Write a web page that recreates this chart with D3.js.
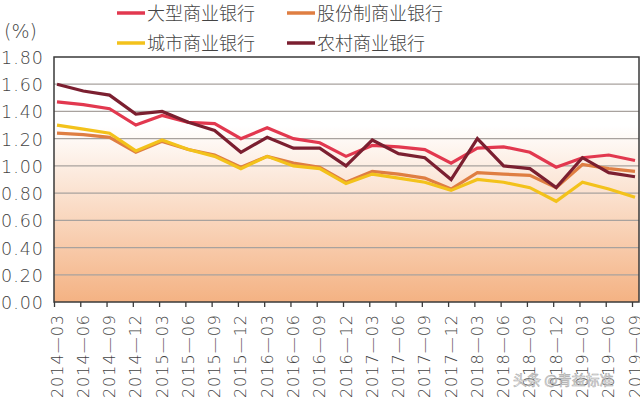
<!DOCTYPE html>
<html>
<head>
<meta charset="utf-8">
<script src="https://cdn.jsdelivr.net/npm/d3@7"></script>
<style>
  body { margin: 0; background: #fff; }
  svg { display: block; }
  text { font-family: "DejaVu Sans", "Noto Sans CJK SC", sans-serif; }
</style>
</head>
<body>
<svg id="chart" width="640" height="397"></svg>
<script>
// --- data ---
const quarters = ["2014—03","2014—06","2014—09","2014—12","2015—03","2015—06","2015—09","2015—12",
  "2016—03","2016—06","2016—09","2016—12","2017—03","2017—06","2017—09","2017—12",
  "2018—03","2018—06","2018—09","2018—12","2019—03","2019—06","2019—09"];

const large   = [1.47,1.45,1.42,1.30,1.37,1.32,1.31,1.20,1.28,1.20,1.17,1.07,1.15,1.14,1.12,1.02,1.13,1.14,1.10,0.99,1.06,1.08,1.04];
const joint   = [1.24,1.23,1.21,1.10,1.18,1.12,1.08,0.99,1.07,1.02,0.99,0.88,0.96,0.94,0.91,0.83,0.95,0.94,0.93,0.84,1.01,0.98,0.96];
const city    = [1.30,1.27,1.24,1.11,1.19,1.12,1.07,0.98,1.07,1.00,0.98,0.87,0.94,0.91,0.88,0.82,0.90,0.88,0.84,0.74,0.88,0.83,0.77];
const rural   = [1.60,1.55,1.52,1.38,1.40,1.32,1.26,1.10,1.21,1.13,1.13,1.00,1.19,1.09,1.06,0.90,1.20,1.00,0.98,0.84,1.06,0.95,0.92];

const yTicks = [0, 0.2, 0.4, 0.6, 0.8, 1.0, 1.2, 1.4, 1.6, 1.8];

const series = [
  { name: "大型商业银行",   values: large, color: "#e2384f" },
  { name: "股份制商业银行", values: joint, color: "#df7e42" },
  { name: "城市商业银行",   values: city,  color: "#f3c21b" },
  { name: "农村商业银行",   values: rural, color: "#7b1f30" }
];

// --- layout ---
const svg = d3.select("#chart");
const plotL = 54, plotR = 639, plotT = 57, plotB = 302;

const x = d3.scalePoint().domain(quarters).range([57, 635]);
const xTick = d3.scalePoint().domain(quarters).range([54, 632]);
const y = d3.scaleLinear().domain([0, 1.8]).range([plotB, plotT]);

// background gradient
const defs = svg.append("defs");
const grad = defs.append("linearGradient").attr("id", "bg")
  .attr("x1", 0).attr("y1", 0).attr("x2", 0).attr("y2", 1);
grad.append("stop").attr("offset", "0%").attr("stop-color", "#ffffff");
grad.append("stop").attr("offset", "28%").attr("stop-color", "#ffffff");
grad.append("stop").attr("offset", "100%").attr("stop-color", "#f4b283");

svg.append("rect")
  .attr("x", plotL).attr("y", plotT)
  .attr("width", plotR - plotL).attr("height", plotB - plotT)
  .attr("fill", "url(#bg)");

// grid lines
svg.append("g")
  .selectAll("line")
  .data(yTicks.filter(d => d > 0 && d < 1.8))
  .enter().append("line")
  .attr("x1", plotL).attr("x2", plotR)
  .attr("y1", d => y(d)).attr("y2", d => y(d))
  .attr("stroke", "#a8a29e").attr("stroke-width", 1.2);

// series lines
const line = d3.line()
  .x((d, i) => x(quarters[i]))
  .y(d => y(d));

svg.append("g")
  .selectAll("path")
  .data([series[1], series[2], series[0], series[3]])
  .enter().append("path")
  .attr("d", d => line(d.values))
  .attr("fill", "none")
  .attr("stroke", d => d.color)
  .attr("stroke-width", 3.2)
  .attr("stroke-linejoin", "miter");

// frame
svg.append("rect")
  .attr("x", plotL).attr("y", plotT)
  .attr("width", plotR - plotL).attr("height", plotB - plotT)
  .attr("fill", "none")
  .attr("stroke", "#3a3a3a").attr("stroke-width", 1.5);

// y axis labels
svg.append("g")
  .selectAll("text")
  .data(yTicks)
  .enter().append("text")
  .attr("x", 44).attr("y", d => y(d) + 7)
  .attr("text-anchor", "end")
  .attr("fill", "#444")
  .style("font-size", "17.5px")
  .style("font-weight", "200")
  .style("letter-spacing", "1px")
  .text(d => d3.format(".2f")(d));

svg.append("text")
  .attr("x", 4).attr("y", 38)
  .attr("fill", "#444")
  .style("font-size", "19px")
  .style("font-weight", "200")
  .text("(%)");

// x axis ticks + labels
const xAxis = d3.axisBottom(xTick).tickSize(5).tickFormat("");
const gx = svg.append("g").attr("transform", `translate(0,${plotB})`).call(xAxis);
gx.select(".domain").remove();
gx.selectAll(".tick line").attr("stroke", "#3a3a3a").attr("stroke-width", 1.3);

svg.append("g")
  .selectAll("text")
  .data(quarters)
  .enter().append("text")
  .attr("transform", d => `translate(${xTick(d) + 8.5},314) rotate(-90)`)
  .attr("text-anchor", "end")
  .attr("fill", "#444")
  .style("font-size", "16px")
  .style("font-weight", "200")
  .style("letter-spacing", "1px")
  .text(d => d);

// legend
const legendPos = [[117, 13], [287, 13], [117, 43], [287, 43]];
const lg = svg.append("g")
  .selectAll("g")
  .data(series)
  .enter().append("g")
  .attr("transform", (d, i) => `translate(${legendPos[i][0]},${legendPos[i][1]})`);
lg.append("line")
  .attr("x1", 0).attr("x2", 28)
  .attr("stroke", d => d.color).attr("stroke-width", 3.5);
lg.append("text")
  .attr("x", 30).attr("y", 7)
  .attr("fill", "#444")
  .style("font-size", "18px")
  .style("font-weight", "300")
  .style("font-family", "'Noto Sans CJK SC', sans-serif")
  .text(d => d.name);

// watermark
svg.append("text")
  .attr("x", 513).attr("y", 385)
  .attr("fill", "#ffffff").attr("stroke", "#9a9a9a").attr("stroke-width", 0.6)
  .attr("opacity", 0.85)
  .style("font-size", "14px")
  .style("font-family", "'Noto Sans CJK SC', sans-serif")
  .text("头条 @青益标准");
</script>
</body>
</html>
